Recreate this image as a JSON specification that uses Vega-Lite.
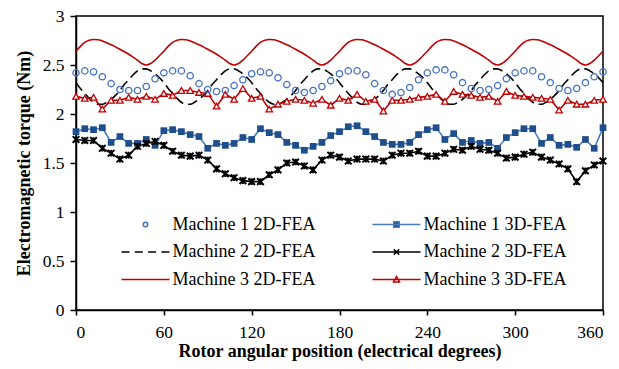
{
  "$schema": "https://vega.github.io/schema/vega-lite/v6.json",
  "width": 527,
  "height": 294,
  "autosize": {"type": "none"},
  "padding": {"left": 76, "top": 16, "right": 16, "bottom": 59},
  "config": {
    "font": "Liberation Serif, Times New Roman, serif",
    "view": {"stroke": "black", "strokeWidth": 1.5},
    "axis": {
      "grid": false,
      "domainColor": "black",
      "domainWidth": 1.5,
      "tickColor": "black",
      "tickWidth": 1.5,
      "tickSize": 6,
      "labelFont": "Liberation Serif, Times New Roman, serif",
      "labelFontSize": 17.5,
      "labelColor": "black",
      "titleFont": "Liberation Serif, Times New Roman, serif",
      "titleFontSize": 18,
      "titleFontWeight": "bold",
      "titleColor": "black"
    }
  },
  "datasets": {
    "m1_2d": [
      {"angle":0,"torque":2.42},{"angle":6,"torque":2.44},{"angle":12,"torque":2.43},{"angle":18,"torque":2.38},{"angle":24,"torque":2.31},{"angle":30,"torque":2.25},{"angle":36,"torque":2.24},{"angle":42,"torque":2.24},{"angle":48,"torque":2.28},{"angle":54,"torque":2.36},
      {"angle":60,"torque":2.42},{"angle":66,"torque":2.44},{"angle":72,"torque":2.44},{"angle":78,"torque":2.39},{"angle":84,"torque":2.31},{"angle":90,"torque":2.25},{"angle":96,"torque":2.23},{"angle":102,"torque":2.24},{"angle":108,"torque":2.29},{"angle":114,"torque":2.35},
      {"angle":120,"torque":2.41},{"angle":126,"torque":2.43},{"angle":132,"torque":2.42},{"angle":138,"torque":2.37},{"angle":144,"torque":2.30},{"angle":150,"torque":2.24},{"angle":156,"torque":2.22},{"angle":162,"torque":2.24},{"angle":168,"torque":2.28},{"angle":174,"torque":2.34},
      {"angle":180,"torque":2.41},{"angle":186,"torque":2.44},{"angle":192,"torque":2.44},{"angle":198,"torque":2.40},{"angle":204,"torque":2.31},{"angle":210,"torque":2.24},{"angle":216,"torque":2.20},{"angle":222,"torque":2.22},{"angle":228,"torque":2.27},{"angle":234,"torque":2.35},
      {"angle":240,"torque":2.42},{"angle":246,"torque":2.45},{"angle":252,"torque":2.45},{"angle":258,"torque":2.40},{"angle":264,"torque":2.32},{"angle":270,"torque":2.26},{"angle":276,"torque":2.24},{"angle":282,"torque":2.25},{"angle":288,"torque":2.29},{"angle":294,"torque":2.36},
      {"angle":300,"torque":2.42},{"angle":306,"torque":2.44},{"angle":312,"torque":2.44},{"angle":318,"torque":2.38},{"angle":324,"torque":2.32},{"angle":330,"torque":2.26},{"angle":336,"torque":2.24},{"angle":342,"torque":2.26},{"angle":348,"torque":2.32},{"angle":354,"torque":2.38},
      {"angle":360,"torque":2.43}
    ],
    "m1_3d": [
      {"angle":0,"torque":1.82},{"angle":6,"torque":1.85},{"angle":12,"torque":1.84},{"angle":18,"torque":1.86},{"angle":24,"torque":1.71},{"angle":30,"torque":1.77},{"angle":36,"torque":1.70},{"angle":42,"torque":1.70},{"angle":48,"torque":1.74},{"angle":54,"torque":1.68},
      {"angle":60,"torque":1.83},{"angle":66,"torque":1.84},{"angle":72,"torque":1.82},{"angle":78,"torque":1.79},{"angle":84,"torque":1.77},{"angle":90,"torque":1.65},{"angle":96,"torque":1.70},{"angle":102,"torque":1.68},{"angle":108,"torque":1.70},{"angle":114,"torque":1.76},
      {"angle":120,"torque":1.74},{"angle":126,"torque":1.85},{"angle":132,"torque":1.81},{"angle":138,"torque":1.79},{"angle":144,"torque":1.71},{"angle":150,"torque":1.68},{"angle":156,"torque":1.63},{"angle":162,"torque":1.67},{"angle":168,"torque":1.71},{"angle":174,"torque":1.78},
      {"angle":180,"torque":1.82},{"angle":186,"torque":1.87},{"angle":192,"torque":1.88},{"angle":198,"torque":1.82},{"angle":204,"torque":1.77},{"angle":210,"torque":1.71},{"angle":216,"torque":1.69},{"angle":222,"torque":1.69},{"angle":228,"torque":1.71},{"angle":234,"torque":1.79},
      {"angle":240,"torque":1.84},{"angle":246,"torque":1.86},{"angle":252,"torque":1.74},{"angle":258,"torque":1.80},{"angle":264,"torque":1.71},{"angle":270,"torque":1.73},{"angle":276,"torque":1.70},{"angle":282,"torque":1.71},{"angle":288,"torque":1.65},{"angle":294,"torque":1.76},
      {"angle":300,"torque":1.81},{"angle":306,"torque":1.85},{"angle":312,"torque":1.85},{"angle":318,"torque":1.70},{"angle":324,"torque":1.76},{"angle":330,"torque":1.68},{"angle":336,"torque":1.69},{"angle":342,"torque":1.66},{"angle":348,"torque":1.74},{"angle":354,"torque":1.65},
      {"angle":360,"torque":1.86}
    ],
    "m2_2d": [
      {"angle":0,"torque":2.32},{"angle":3,"torque":2.26},{"angle":6,"torque":2.21},{"angle":9,"torque":2.16},{"angle":12,"torque":2.12},{"angle":15,"torque":2.10},{"angle":18,"torque":2.10},{"angle":21,"torque":2.12},{"angle":24,"torque":2.15},{"angle":27,"torque":2.19},
      {"angle":30,"torque":2.24},{"angle":33,"torque":2.30},{"angle":36,"torque":2.35},{"angle":39,"torque":2.40},{"angle":42,"torque":2.44},{"angle":45,"torque":2.46},{"angle":48,"torque":2.46},{"angle":51,"torque":2.44},{"angle":54,"torque":2.41},{"angle":57,"torque":2.37},
      {"angle":60,"torque":2.32},{"angle":63,"torque":2.26},{"angle":66,"torque":2.21},{"angle":69,"torque":2.16},{"angle":72,"torque":2.12},{"angle":75,"torque":2.10},{"angle":78,"torque":2.10},{"angle":81,"torque":2.12},{"angle":84,"torque":2.15},{"angle":87,"torque":2.19},
      {"angle":90,"torque":2.24},{"angle":93,"torque":2.30},{"angle":96,"torque":2.35},{"angle":99,"torque":2.40},{"angle":102,"torque":2.44},{"angle":105,"torque":2.46},{"angle":108,"torque":2.46},{"angle":111,"torque":2.44},{"angle":114,"torque":2.41},{"angle":117,"torque":2.37},
      {"angle":120,"torque":2.32},{"angle":123,"torque":2.26},{"angle":126,"torque":2.21},{"angle":129,"torque":2.16},{"angle":132,"torque":2.12},{"angle":135,"torque":2.10},{"angle":138,"torque":2.10},{"angle":141,"torque":2.12},{"angle":144,"torque":2.15},{"angle":147,"torque":2.19},
      {"angle":150,"torque":2.24},{"angle":153,"torque":2.30},{"angle":156,"torque":2.35},{"angle":159,"torque":2.40},{"angle":162,"torque":2.44},{"angle":165,"torque":2.46},{"angle":168,"torque":2.46},{"angle":171,"torque":2.44},{"angle":174,"torque":2.41},{"angle":177,"torque":2.37},
      {"angle":180,"torque":2.32},{"angle":183,"torque":2.26},{"angle":186,"torque":2.21},{"angle":189,"torque":2.16},{"angle":192,"torque":2.12},{"angle":195,"torque":2.10},{"angle":198,"torque":2.10},{"angle":201,"torque":2.12},{"angle":204,"torque":2.15},{"angle":207,"torque":2.19},
      {"angle":210,"torque":2.24},{"angle":213,"torque":2.30},{"angle":216,"torque":2.35},{"angle":219,"torque":2.40},{"angle":222,"torque":2.44},{"angle":225,"torque":2.46},{"angle":228,"torque":2.46},{"angle":231,"torque":2.44},{"angle":234,"torque":2.41},{"angle":237,"torque":2.37},
      {"angle":240,"torque":2.32},{"angle":243,"torque":2.26},{"angle":246,"torque":2.21},{"angle":249,"torque":2.16},{"angle":252,"torque":2.12},{"angle":255,"torque":2.10},{"angle":258,"torque":2.10},{"angle":261,"torque":2.12},{"angle":264,"torque":2.15},{"angle":267,"torque":2.19},
      {"angle":270,"torque":2.24},{"angle":273,"torque":2.30},{"angle":276,"torque":2.35},{"angle":279,"torque":2.40},{"angle":282,"torque":2.44},{"angle":285,"torque":2.46},{"angle":288,"torque":2.46},{"angle":291,"torque":2.44},{"angle":294,"torque":2.41},{"angle":297,"torque":2.37},
      {"angle":300,"torque":2.32},{"angle":303,"torque":2.26},{"angle":306,"torque":2.21},{"angle":309,"torque":2.16},{"angle":312,"torque":2.12},{"angle":315,"torque":2.10},{"angle":318,"torque":2.10},{"angle":321,"torque":2.12},{"angle":324,"torque":2.15},{"angle":327,"torque":2.19},
      {"angle":330,"torque":2.24},{"angle":333,"torque":2.30},{"angle":336,"torque":2.35},{"angle":339,"torque":2.40},{"angle":342,"torque":2.44},{"angle":345,"torque":2.46},{"angle":348,"torque":2.46},{"angle":351,"torque":2.44},{"angle":354,"torque":2.41},{"angle":357,"torque":2.37},
      {"angle":360,"torque":2.32}
    ],
    "m2_3d": [
      {"angle":0,"torque":1.74},{"angle":6,"torque":1.73},{"angle":12,"torque":1.73},{"angle":18,"torque":1.65},{"angle":24,"torque":1.60},{"angle":30,"torque":1.54},{"angle":36,"torque":1.58},{"angle":42,"torque":1.67},{"angle":48,"torque":1.70},{"angle":54,"torque":1.72},
      {"angle":60,"torque":1.68},{"angle":66,"torque":1.62},{"angle":72,"torque":1.58},{"angle":78,"torque":1.57},{"angle":84,"torque":1.58},{"angle":90,"torque":1.53},{"angle":96,"torque":1.44},{"angle":102,"torque":1.39},{"angle":108,"torque":1.35},{"angle":114,"torque":1.32},
      {"angle":120,"torque":1.31},{"angle":126,"torque":1.31},{"angle":132,"torque":1.38},{"angle":138,"torque":1.43},{"angle":144,"torque":1.50},{"angle":150,"torque":1.51},{"angle":156,"torque":1.47},{"angle":162,"torque":1.43},{"angle":168,"torque":1.53},{"angle":174,"torque":1.58},
      {"angle":180,"torque":1.56},{"angle":186,"torque":1.52},{"angle":192,"torque":1.54},{"angle":198,"torque":1.54},{"angle":204,"torque":1.54},{"angle":210,"torque":1.52},{"angle":216,"torque":1.58},{"angle":222,"torque":1.60},{"angle":228,"torque":1.60},{"angle":234,"torque":1.62},
      {"angle":240,"torque":1.57},{"angle":246,"torque":1.57},{"angle":252,"torque":1.60},{"angle":258,"torque":1.64},{"angle":264,"torque":1.63},{"angle":270,"torque":1.67},{"angle":276,"torque":1.64},{"angle":282,"torque":1.63},{"angle":288,"torque":1.60},{"angle":294,"torque":1.55},
      {"angle":300,"torque":1.56},{"angle":306,"torque":1.59},{"angle":312,"torque":1.61},{"angle":318,"torque":1.56},{"angle":324,"torque":1.53},{"angle":330,"torque":1.49},{"angle":336,"torque":1.44},{"angle":342,"torque":1.31},{"angle":348,"torque":1.42},{"angle":354,"torque":1.48},
      {"angle":360,"torque":1.52}
    ],
    "m3_2d": [
      {"angle":0,"torque":2.64},{"angle":3,"torque":2.69},{"angle":6,"torque":2.73},{"angle":9,"torque":2.753},{"angle":12,"torque":2.76},{"angle":15,"torque":2.757},{"angle":18,"torque":2.745},{"angle":21,"torque":2.728},{"angle":24,"torque":2.707},{"angle":27,"torque":2.685},
      {"angle":30,"torque":2.66},{"angle":33,"torque":2.635},{"angle":36,"torque":2.61},{"angle":39,"torque":2.58},{"angle":42,"torque":2.55},{"angle":45,"torque":2.515},{"angle":48,"torque":2.5},{"angle":51,"torque":2.515},{"angle":54,"torque":2.55},{"angle":57,"torque":2.595},
      {"angle":60,"torque":2.64},{"angle":63,"torque":2.69},{"angle":66,"torque":2.73},{"angle":69,"torque":2.753},{"angle":72,"torque":2.76},{"angle":75,"torque":2.757},{"angle":78,"torque":2.745},{"angle":81,"torque":2.728},{"angle":84,"torque":2.707},{"angle":87,"torque":2.685},
      {"angle":90,"torque":2.66},{"angle":93,"torque":2.635},{"angle":96,"torque":2.61},{"angle":99,"torque":2.58},{"angle":102,"torque":2.55},{"angle":105,"torque":2.515},{"angle":108,"torque":2.5},{"angle":111,"torque":2.515},{"angle":114,"torque":2.55},{"angle":117,"torque":2.595},
      {"angle":120,"torque":2.64},{"angle":123,"torque":2.69},{"angle":126,"torque":2.73},{"angle":129,"torque":2.753},{"angle":132,"torque":2.76},{"angle":135,"torque":2.757},{"angle":138,"torque":2.745},{"angle":141,"torque":2.728},{"angle":144,"torque":2.707},{"angle":147,"torque":2.685},
      {"angle":150,"torque":2.66},{"angle":153,"torque":2.635},{"angle":156,"torque":2.61},{"angle":159,"torque":2.58},{"angle":162,"torque":2.55},{"angle":165,"torque":2.515},{"angle":168,"torque":2.5},{"angle":171,"torque":2.515},{"angle":174,"torque":2.55},{"angle":177,"torque":2.595},
      {"angle":180,"torque":2.64},{"angle":183,"torque":2.69},{"angle":186,"torque":2.73},{"angle":189,"torque":2.753},{"angle":192,"torque":2.76},{"angle":195,"torque":2.757},{"angle":198,"torque":2.745},{"angle":201,"torque":2.728},{"angle":204,"torque":2.707},{"angle":207,"torque":2.685},
      {"angle":210,"torque":2.66},{"angle":213,"torque":2.635},{"angle":216,"torque":2.61},{"angle":219,"torque":2.58},{"angle":222,"torque":2.55},{"angle":225,"torque":2.515},{"angle":228,"torque":2.5},{"angle":231,"torque":2.515},{"angle":234,"torque":2.55},{"angle":237,"torque":2.595},
      {"angle":240,"torque":2.64},{"angle":243,"torque":2.69},{"angle":246,"torque":2.73},{"angle":249,"torque":2.753},{"angle":252,"torque":2.76},{"angle":255,"torque":2.757},{"angle":258,"torque":2.745},{"angle":261,"torque":2.728},{"angle":264,"torque":2.707},{"angle":267,"torque":2.685},
      {"angle":270,"torque":2.66},{"angle":273,"torque":2.635},{"angle":276,"torque":2.61},{"angle":279,"torque":2.58},{"angle":282,"torque":2.55},{"angle":285,"torque":2.515},{"angle":288,"torque":2.5},{"angle":291,"torque":2.515},{"angle":294,"torque":2.55},{"angle":297,"torque":2.595},
      {"angle":300,"torque":2.64},{"angle":303,"torque":2.69},{"angle":306,"torque":2.73},{"angle":309,"torque":2.753},{"angle":312,"torque":2.76},{"angle":315,"torque":2.757},{"angle":318,"torque":2.745},{"angle":321,"torque":2.728},{"angle":324,"torque":2.707},{"angle":327,"torque":2.685},
      {"angle":330,"torque":2.66},{"angle":333,"torque":2.635},{"angle":336,"torque":2.61},{"angle":339,"torque":2.58},{"angle":342,"torque":2.55},{"angle":345,"torque":2.515},{"angle":348,"torque":2.5},{"angle":351,"torque":2.515},{"angle":354,"torque":2.55},{"angle":357,"torque":2.595},
      {"angle":360,"torque":2.64}
    ],
    "m3_3d": [
      {"angle":0,"torque":2.18},{"angle":6,"torque":2.16},{"angle":12,"torque":2.17},{"angle":18,"torque":2.05},{"angle":24,"torque":2.14},{"angle":30,"torque":2.14},{"angle":36,"torque":2.17},{"angle":42,"torque":2.15},{"angle":48,"torque":2.18},{"angle":54,"torque":2.15},
      {"angle":60,"torque":2.21},{"angle":66,"torque":2.19},{"angle":72,"torque":2.24},{"angle":78,"torque":2.24},{"angle":84,"torque":2.22},{"angle":90,"torque":2.21},{"angle":96,"torque":2.08},{"angle":102,"torque":2.20},{"angle":108,"torque":2.15},{"angle":114,"torque":2.26},
      {"angle":120,"torque":2.16},{"angle":126,"torque":2.18},{"angle":132,"torque":2.05},{"angle":138,"torque":2.10},{"angle":144,"torque":2.13},{"angle":150,"torque":2.15},{"angle":156,"torque":2.14},{"angle":162,"torque":2.11},{"angle":168,"torque":2.15},{"angle":174,"torque":2.09},
      {"angle":180,"torque":2.16},{"angle":186,"torque":2.14},{"angle":192,"torque":2.20},{"angle":198,"torque":2.13},{"angle":204,"torque":2.15},{"angle":210,"torque":2.03},{"angle":216,"torque":2.14},{"angle":222,"torque":2.14},{"angle":228,"torque":2.15},{"angle":234,"torque":2.17},
      {"angle":240,"torque":2.18},{"angle":246,"torque":2.20},{"angle":252,"torque":2.13},{"angle":258,"torque":2.23},{"angle":264,"torque":2.20},{"angle":270,"torque":2.19},{"angle":276,"torque":2.17},{"angle":282,"torque":2.18},{"angle":288,"torque":2.13},{"angle":294,"torque":2.23},
      {"angle":300,"torque":2.19},{"angle":306,"torque":2.18},{"angle":312,"torque":2.17},{"angle":318,"torque":2.16},{"angle":324,"torque":2.15},{"angle":330,"torque":2.04},{"angle":336,"torque":2.14},{"angle":342,"torque":2.10},{"angle":348,"torque":2.10},{"angle":354,"torque":2.14},
      {"angle":360,"torque":2.15}
    ]
  },
  "encoding": {
    "x": {
      "field": "angle",
      "type": "quantitative",
      "scale": {"domain": [0, 360], "nice": false},
      "axis": {
        "values": [0, 60, 120, 180, 240, 300, 360],
        "title": "Rotor angular position (electrical degrees)",
        "tickSize": 5,
        "labelPadding": 8,
        "titlePadding": 2
      }
    },
    "y": {
      "field": "torque",
      "type": "quantitative",
      "scale": {"domain": [0, 3], "nice": false},
      "axis": {
        "values": [0, 0.5, 1, 1.5, 2, 2.5, 3],
        "format": "~g",
        "title": "Electromagnetic torque (Nm)",
        "labelPadding": 6,
        "titlePadding": 9
      }
    }
  },
  "layer": [
    {
      "data": {"name": "m2_2d"},
      "mark": {"type": "line", "strokeWidth": 1.6, "strokeDash": [10, 5], "interpolate": "monotone"},
      "encoding": {
        "color": {
          "datum": "Machine 2 2D-FEA",
          "scale": {
            "domain": ["Machine 1 2D-FEA", "Machine 1 3D-FEA", "Machine 2 2D-FEA", "Machine 2 3D-FEA", "Machine 3 2D-FEA", "Machine 3 3D-FEA"],
            "range": ["#4472C4", "#4A7EBB", "#000000", "#000000", "#C00000", "#C00000"]
          },
          "legend": {
            "title": null,
            "orient": "none",
            "direction": "horizontal",
            "legendX": 41.5,
            "legendY": 199.5,
            "columns": 2,
            "padding": 0,
            "columnPadding": 53,
            "rowPadding": 9.5,
            "labelFont": "Liberation Serif, Times New Roman, serif",
            "labelFontSize": 18,
            "labelColor": "black",
            "labelLimit": 300,
            "symbolSize": 100,
            "symbolOffset": 19,
            "labelOffset": 18,
            "symbolStrokeWidth": 1.5,
            "encode": {
              "symbols": {
                "update": {
                  "shape": {"signal": "datum.value === 'Machine 1 2D-FEA' ? 'M-0.45,0A0.45,0.45,0,1,0,0.45,0A0.45,0.45,0,1,0,-0.45,0Z' : datum.value === 'Machine 1 3D-FEA' ? 'M-4.8,0H4.8M-0.55,-0.55H0.55V0.55H-0.55Z' : datum.value === 'Machine 2 3D-FEA' ? 'M-4.8,0H4.8M-0.55,-0.55L0.55,0.55M-0.55,0.55L0.55,-0.55' : datum.value === 'Machine 3 3D-FEA' ? 'M-4.8,0H4.8M0,-0.6L0.6,0.5H-0.6Z' : 'M-4.8,0H4.8'"},
                  "fill": {"signal": "datum.value === 'Machine 1 3D-FEA' ? '#1F4E8C' : datum.value === 'Machine 3 3D-FEA' ? 'white' : 'transparent'"},
                  "stroke": {"signal": "datum.value === 'Machine 1 2D-FEA' ? '#4472C4' : datum.value === 'Machine 1 3D-FEA' ? '#4A7EBB' : datum.value === 'Machine 3 2D-FEA' || datum.value === 'Machine 3 3D-FEA' ? '#C00000' : '#000000'"},
                  "strokeDash": {"signal": "datum.value === 'Machine 2 2D-FEA' ? [8, 5.3] : []"},
                  "strokeWidth": {"value": 1.5},
                  "opacity": {"value": 1}
                }
              }
            }
          }
        }
      }
    },
    {
      "data": {"name": "m3_2d"},
      "mark": {"type": "line", "strokeWidth": 1.6, "interpolate": "monotone"},
      "encoding": {
        "color": {
          "datum": "Machine 3 2D-FEA",
          "scale": {
            "domain": ["Machine 1 2D-FEA", "Machine 1 3D-FEA", "Machine 2 2D-FEA", "Machine 2 3D-FEA", "Machine 3 2D-FEA", "Machine 3 3D-FEA"],
            "range": ["#4472C4", "#4A7EBB", "#000000", "#000000", "#C00000", "#C00000"]
          }
        }
      }
    },
    {
      "data": {"name": "m1_3d"},
      "mark": {"type": "line", "strokeWidth": 1.6},
      "encoding": {
        "color": {
          "datum": "Machine 1 3D-FEA",
          "scale": {
            "domain": ["Machine 1 2D-FEA", "Machine 1 3D-FEA", "Machine 2 2D-FEA", "Machine 2 3D-FEA", "Machine 3 2D-FEA", "Machine 3 3D-FEA"],
            "range": ["#4472C4", "#4A7EBB", "#000000", "#000000", "#C00000", "#C00000"]
          }
        }
      }
    },
    {
      "data": {"name": "m1_3d"},
      "mark": {"type": "point", "shape": "square", "filled": true, "color": "#1F4E8C", "opacity": 1, "size": 45}
    },
    {
      "data": {"name": "m2_3d"},
      "mark": {"type": "line", "strokeWidth": 1.6},
      "encoding": {
        "color": {
          "datum": "Machine 2 3D-FEA",
          "scale": {
            "domain": ["Machine 1 2D-FEA", "Machine 1 3D-FEA", "Machine 2 2D-FEA", "Machine 2 3D-FEA", "Machine 3 2D-FEA", "Machine 3 3D-FEA"],
            "range": ["#4472C4", "#4A7EBB", "#000000", "#000000", "#C00000", "#C00000"]
          }
        }
      }
    },
    {
      "data": {"name": "m2_3d"},
      "mark": {"type": "point", "shape": "M-1,-1L1,1M-1,1L1,-1M0,-1V1", "filled": false, "stroke": "#000000", "strokeWidth": 2, "opacity": 1, "size": 44}
    },
    {
      "data": {"name": "m3_3d"},
      "mark": {"type": "line", "strokeWidth": 1.6},
      "encoding": {
        "color": {
          "datum": "Machine 3 3D-FEA",
          "scale": {
            "domain": ["Machine 1 2D-FEA", "Machine 1 3D-FEA", "Machine 2 2D-FEA", "Machine 2 3D-FEA", "Machine 3 2D-FEA", "Machine 3 3D-FEA"],
            "range": ["#4472C4", "#4A7EBB", "#000000", "#000000", "#C00000", "#C00000"]
          }
        }
      }
    },
    {
      "data": {"name": "m3_3d"},
      "mark": {"type": "point", "shape": "triangle-up", "filled": true, "fill": "#FFFFFF", "stroke": "#C00000", "strokeWidth": 1.3, "opacity": 1, "size": 42}
    },
    {
      "data": {"name": "m1_2d"},
      "mark": {"type": "point", "shape": "circle", "filled": false, "stroke": "#4472C4", "strokeWidth": 1.3, "opacity": 1, "size": 40}
    }
  ]
}
